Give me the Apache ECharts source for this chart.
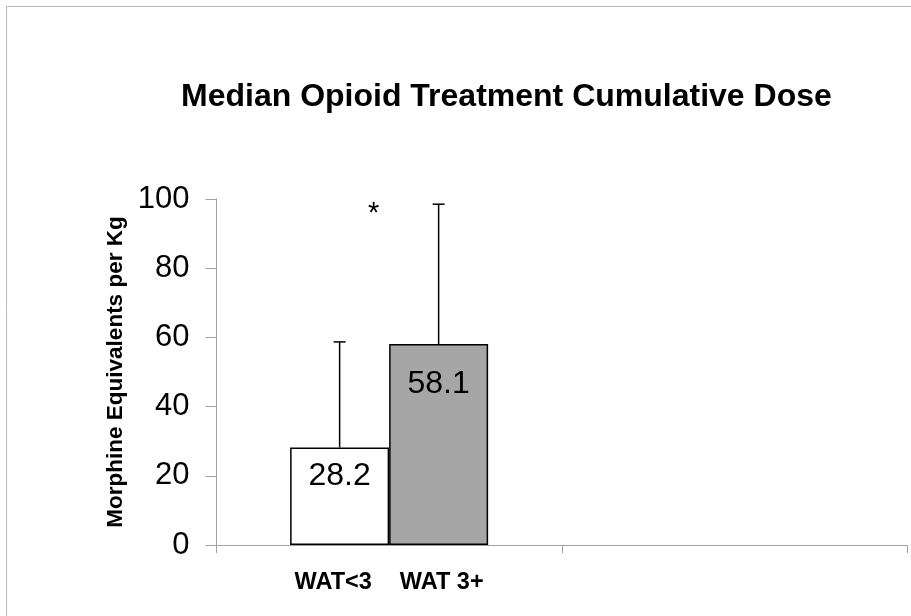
<!DOCTYPE html>
<html>
<head>
<meta charset="utf-8">
<script src="https://cdn.jsdelivr.net/npm/echarts@6/dist/echarts.min.js"></script>
<style>
  html, body { margin: 0; padding: 0; background: #ffffff; }
  #chart { width: 911px; height: 616px; }
</style>
</head>
<body>
<div id="chart"></div>
<script>
// ---- data ----
const titleText = 'Median Opioid Treatment Cumulative Dose';
const yAxisName = 'Morphine Equivalents per Kg';
const groups = ['WAT<3', 'WAT 3+'];
const medians = [28.2, 58.1];
const upperErr = [58.7, 98.5];
const categories = ['groups', ''];
const yMin = 0, yMax = 100, yStep = 20;
const fills = ['#ffffff', '#a6a6a6'];
const labelDist = [13, 24];
const sigMark = '*';

const FONT = 'Liberation Sans, Arial, sans-serif';
const BAR_W = 99;

const chart = echarts.init(document.getElementById('chart'), null, { renderer: 'canvas' });

const barSeries = groups.map((g, i) => ({
  type: 'bar',
  name: g,
  barWidth: BAR_W,
  barGap: '0%',
  data: [{ value: medians[i], label: { distance: labelDist[i] } }, null],
  itemStyle: { color: fills[i], borderColor: '#000', borderWidth: 1.5 },
  label: {
    show: true,
    position: 'insideTop',
    color: '#000',
    fontFamily: FONT,
    fontSize: 32,
    formatter: p => p.value.toFixed(1)
  },
  silent: true,
  animation: false
}));

const errData = groups.map((g, i) => [0, medians[i], i, upperErr[i]]);

const option = {
  backgroundColor: '#ffffff',
  animation: false,
  title: {
    text: titleText,
    left: 176,
    top: 76,
    textStyle: { fontFamily: FONT, fontWeight: 'bold', fontSize: 32, color: '#000' }
  },
  grid: { left: 216.5, right: 4, top: 199, bottom: 71, containLabel: false },
  xAxis: {
    type: 'category',
    data: categories,
    boundaryGap: true,
    axisLine: { lineStyle: { color: '#a0a0a0', width: 1 } },
    axisTick: { show: true, length: 8, lineStyle: { color: '#a0a0a0' } },
    axisLabel: {
      margin: 26,
      interval: 0,
      formatter: (v, idx) => idx === 0 ? '{t|' + groups[0] + '}{g|}{t|' + groups[1] + '}' : '',
      rich: {
        t: { fontFamily: FONT, fontWeight: 'bold', fontSize: 23.5, color: '#000' },
        g: { width: 28 }
      }
    },
    splitLine: { show: false }
  },
  yAxis: {
    type: 'value',
    min: yMin,
    max: yMax,
    interval: yStep,
    name: yAxisName,
    nameLocation: 'middle',
    nameRotate: 90,
    nameGap: 83,
    nameTextStyle: { fontFamily: FONT, fontWeight: 'bold', fontSize: 22.5, color: '#000' },
    axisLine: { show: true, lineStyle: { color: '#a0a0a0', width: 1 } },
    axisTick: { show: true, length: 11, lineStyle: { color: '#a0a0a0' } },
    axisLabel: { margin: 27, fontFamily: FONT, fontSize: 31, color: '#000' },
    splitLine: { show: false }
  },
  series: barSeries.concat([{
    type: 'custom',
    name: 'error',
    data: errData,
    z: 5,
    silent: true,
    renderItem: function (params, api) {
      const idx = api.value(2);
      const base = api.coord([api.value(0), api.value(1)]);
      const top = api.coord([api.value(0), api.value(3)]);
      const x = base[0] + (idx - 0.5) * BAR_W;
      const capHalf = 6;
      const style = { stroke: '#000', lineWidth: 1.5 };
      return {
        type: 'group',
        children: [
          { type: 'line', shape: { x1: x, y1: base[1], x2: x, y2: top[1] }, style: style },
          { type: 'line', shape: { x1: x - capHalf, y1: top[1], x2: x + capHalf, y2: top[1] }, style: style }
        ]
      };
    }
  }]),
  graphic: [
    {
      type: 'rect',
      shape: { x: 6.5, y: 6.5, width: 1000, height: 1000 },
      style: { fill: 'none', stroke: '#b8b8b8', lineWidth: 1 },
      silent: true
    },
    {
      type: 'text',
      left: 368,
      top: 199,
      style: { text: sigMark, fontFamily: FONT, fontSize: 29, fill: '#000' },
      silent: true
    }
  ]
};

chart.setOption(option);
</script>
</body>
</html>
